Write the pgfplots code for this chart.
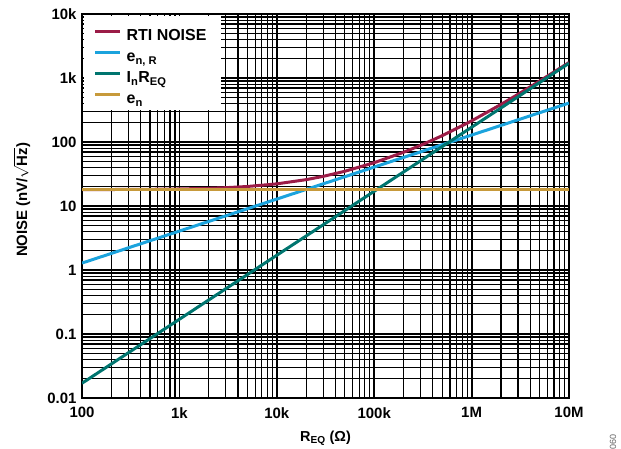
\documentclass[border=0pt]{standalone}
\usepackage{pgfplots}
\pgfplotsset{compat=1.18}
\usepackage{fontspec}
\setmainfont{Liberation Sans}
\definecolor{rti}{HTML}{9B1C47}
\definecolor{enr}{HTML}{1BA3DD}
\definecolor{inr}{HTML}{00756F}
\definecolor{enc}{HTML}{C79A3B}
\begin{document}
\begin{tikzpicture}[x=1bp,y=1bp]
\useasboundingbox (0,0) rectangle (621,449);
\begin{axis}[
  at={(82bp,51bp)}, anchor=south west,
  scale only axis, width=487bp, height=384bp,
  xmode=log, ymode=log,
  xmin=100, xmax=1e7, ymin=0.01, ymax=1e4,
  xtick={100,1000,10000,100000,1000000,10000000},
  xticklabels={100,1k,10k,100k,1M,10M},
  ytick={0.01,0.1,1,10,100,1000,10000},
  yticklabels={0.01,0.1,1,10,100,1k,10k},
  minor xtick={200,300,400,500,600,700,800,900,2000,3000,4000,5000,6000,7000,8000,9000,20000,30000,40000,50000,60000,70000,80000,90000,200000,300000,400000,500000,600000,700000,800000,900000,2000000,3000000,4000000,5000000,6000000,7000000,8000000,9000000},
  minor ytick={0.02,0.03,0.04,0.05,0.06,0.07,0.08,0.09,0.2,0.3,0.4,0.5,0.6,0.7,0.8,0.9,2,3,4,5,6,7,8,9,20,30,40,50,60,70,80,90,200,300,400,500,600,700,800,900,2000,3000,4000,5000,6000,7000,8000,9000},
  grid=both,
  major grid style={black, line width=1.8bp},
  minor grid style={black, line width=1.2bp},
  major tick length=0pt, minor tick length=0pt,
  axis line style={black, line width=1.5bp},
  tick label style={font=\fontsize{15}{17}\selectfont\bfseries},
  xticklabel style={yshift=-6bp},
  yticklabel style={xshift=-2bp},
  /pgf/number format/assume math mode=true,
  xlabel={R\textsubscript{EQ} (Ω)},
  ylabel={NOISE (nV/$\sqrt{\mbox{Hz}}$)},
  every axis x label/.style={at={(axis description cs:0.5,-0.104)}, anchor=center, font=\fontsize{14.5}{16}\selectfont\bfseries},
  every axis y label/.style={at={(axis description cs:-0.1232,0.516)}, rotate=90, anchor=center, font=\fontsize{15}{17}\selectfont\bfseries},
  legend style={at={(axis description cs:0,1)}, xshift=1.5bp, yshift=-1.5bp, anchor=north west,
    draw=none, fill=white, font=\fontsize{16}{18}\selectfont\bfseries,
    inner xsep=10bp, inner ysep=5bp, row sep=0bp, column sep=0bp,
    nodes={inner xsep=5bp, inner ysep=0bp, text height=20bp, text depth=1bp}},
  legend cell align=left,
  legend image code/.code={\draw[#1] (0bp,0bp) -- (25bp,0bp);},
]
\addplot[rti, line width=3bp] coordinates {
 (100,18.05)(200,18.09)(500,18.23)(1000,18.45)(2000,18.89)(3000,19.33)(5000,20.17)(10000,22.17)(20000,25.78)(30000,29.05)(50000,34.91)(100000,47.52)(200000,69.07)(300000,88.67)(500000,125.6)(1000000,213.7)(2000000,385.8)(3000000,556.6)(5000000,897.3)(10000000,1748)
};
\addlegendentry{RTI NOISE}
\addplot[enr, line width=3bp] coordinates {
 (100,1.283)(1000,4.056)(10000,12.83)(100000,40.56)(1000000,128.3)(10000000,405.6)
};
\addlegendentry{e\textsubscript{n, R}}
\addplot[inr, line width=3bp] coordinates {
 (100,0.017)(1000,0.17)(10000,1.7)(100000,17)(1000000,170)(10000000,1700)
};
\addlegendentry{I\textsubscript{n}R\textsubscript{EQ}}
\addplot[enc, line width=3bp] coordinates {
 (100,18)(10000000,18)
};
\addlegendentry{e\textsubscript{n}}
\end{axis}
\node[rotate=90, font=\fontsize{9}{10}\selectfont, gray!80!black, anchor=west, inner sep=0pt] at (613,-1) {060};
\end{tikzpicture}
\end{document}
